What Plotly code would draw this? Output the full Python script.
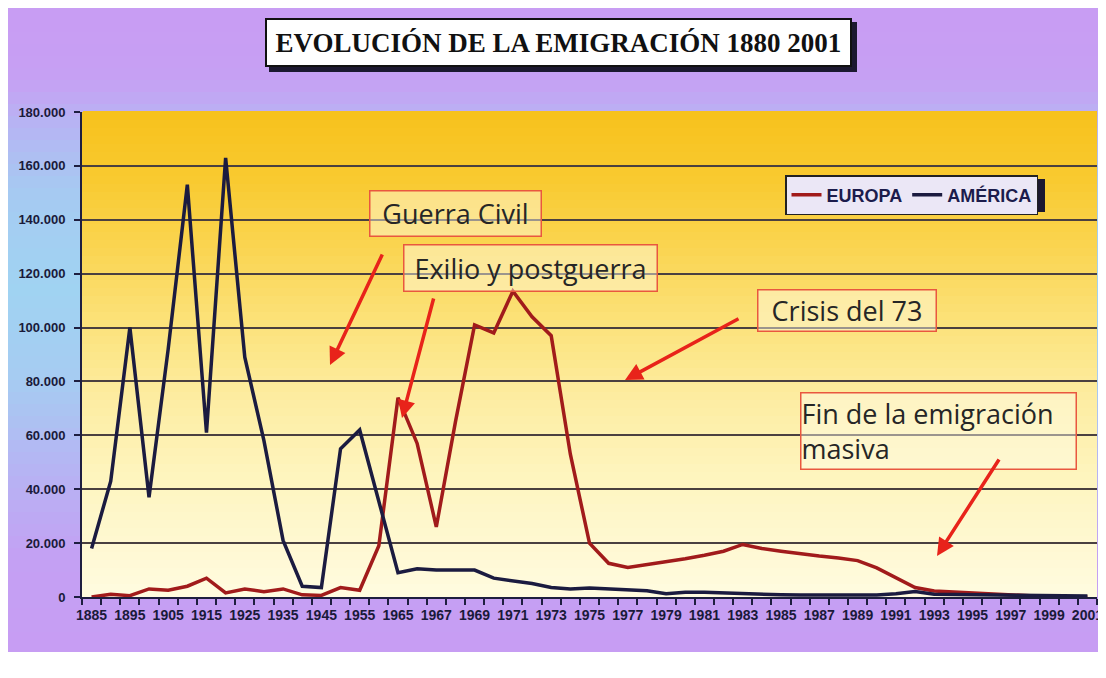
"""
Evolución de la emigración 1880-2001 (Europa / América)
"""

import plotly.graph_objects as go

# the page body adds an 8px margin, so the figure is 16px smaller than the window
OFF = 8
W, H = 1090, 662
# plot area in reference-picture pixels
PL, PR, PT, PB = 82, 1097, 112, 597

years = [
    "1885", "1890", "1895", "1900", "1905", "1910", "1915", "1920", "1925",
    "1930", "1935", "1940", "1945", "1950", "1955", "1960", "1965", "1966",
    "1967", "1968", "1969", "1970", "1971", "1972", "1973", "1974", "1975",
    "1976", "1977", "1978", "1979", "1980", "1981", "1982", "1983", "1984",
    "1985", "1986", "1987", "1988", "1989", "1990", "1991", "1992", "1993",
    "1994", "1995", "1996", "1997", "1998", "1999", "2000", "2001",
]

europa = [
    0, 1000, 500, 3000, 2500, 4000, 7000, 1500, 3000,
    2000, 3000, 800, 600, 3500, 2500, 19000, 74000, 57000,
    26000, 65000, 101000, 98000, 113500, 104000, 97000, 53000, 20000,
    12500, 11000, 12000, 13000, 14200, 15500, 17000, 19500, 18000,
    17000, 16000, 15200, 14500, 13500, 10800, 7000, 3500, 2200,
    1800, 1500, 1200, 700, 300, 100, 0, 0,
]

america = [
    18000, 43000, 100000, 37000, 92000, 153000, 61000, 163000, 89000,
    58000, 21000, 4000, 3500, 55000, 62000, 35000, 9000, 10500,
    10000, 10000, 10000, 7000, 6000, 5000, 3500, 3000, 3300,
    3000, 2700, 2300, 1200, 1800, 1800, 1500, 1400, 900,
    800, 700, 700, 600, 600, 700, 1200, 2000, 1000,
    900, 800, 700, 700, 600, 600, 500, 400,
]

y_ticks = [0, 20000, 40000, 60000, 80000, 100000, 120000, 140000, 160000, 180000]
y_labels = ["0", "20.000", "40.000", "60.000", "80.000", "100.000",
            "120.000", "140.000", "160.000", "180.000"]
x_labels = [y if i % 2 == 0 else "" for i, y in enumerate(years)]

TITULO = "EVOLUCIÓN DE LA EMIGRACIÓN 1880 2001"

# text boxes: (text, centre x, centre y, width, height, align)
notas = [
    ("Guerra Civil", 455, 213, 170, 44, "center"),
    ("Exilio y postguerra", 530, 268, 252, 45, "center"),
    ("Crisis del 73", 847, 310, 177, 40, "center"),
    ("Fin de la emigración<br>masiva", 938, 431, 274, 75, "left"),
]
# arrows: (head x, head y, tail x, tail y)
flechas = [
    (330, 365, 383, 253),
    (402, 418, 434, 297),
    (625, 380, 740, 318),
    (937, 556, 1000, 458),
]


def px_x(px):
    return (px - PL) / (PR - PL)


def px_y(py):
    return (PB - py) / (PB - PT)


def mezcla(stops, py):
    for (p0, c0), (p1, c1) in zip(stops, stops[1:]):
        if p0 <= py <= p1:
            t = (py - p0) / (p1 - p0)
            c = [round(a + (b - a) * t) for a, b in zip(c0, c1)]
            return f"rgb({c[0]},{c[1]},{c[2]})"
    c = stops[-1][1]
    return f"rgb({c[0]},{c[1]},{c[2]})"


def bandas(stops, x0, x1, y0, y1, paso):
    out = []
    py = y0
    while py < y1:
        py2 = min(py + paso, y1)
        out.append(dict(
            type="rect", xref="paper", yref="paper", layer="below",
            x0=px_x(x0), x1=px_x(x1), y0=px_y(py2 + 0.6), y1=px_y(py),
            fillcolor=mezcla(stops, (py + py2) / 2), line_width=0,
        ))
        py = py2
    return out


fondo_pagina = [
    (0, (201, 156, 243)), (80, (198, 160, 243)), (120, (184, 178, 243)),
    (190, (166, 202, 242)), (290, (160, 211, 242)), (380, (166, 204, 242)),
    (470, (182, 180, 243)), (560, (196, 160, 243)), (678, (200, 156, 243)),
]
fondo_grafico = [
    (112, (247, 194, 28)), (180, (249, 202, 48)), (250, (250, 213, 82)),
    (330, (252, 227, 126)), (400, (253, 237, 162)), (480, (254, 245, 192)),
    (597, (255, 251, 224)),
]

shapes = []
shapes += bandas(fondo_pagina, OFF, OFF + W, OFF, OFF + H, 12)
# white strip at the bottom of the slide
shapes.append(dict(type="rect", xref="paper", yref="paper", layer="below",
                   x0=px_x(OFF), x1=px_x(OFF + W), y0=px_y(OFF + H), y1=px_y(652),
                   fillcolor="white", line_width=0))
shapes += bandas(fondo_grafico, PL, PR, PT, PB, 8)
# shadows for title and legend boxes
for x0, x1, y0, y1 in [(269, 857, 22, 72), (789, 1045, 179, 212)]:
    shapes.append(dict(type="rect", xref="paper", yref="paper", layer="below",
                       x0=px_x(x0), x1=px_x(x1), y0=px_y(y1), y1=px_y(y0),
                       fillcolor="#1c1830", line_width=0))
# no dark gridline along the top edge of the plot
shapes.append(dict(type="line", xref="paper", yref="paper", layer="above",
                   x0=px_x(PL + 1), x1=1, y0=1, y1=1,
                   line=dict(color="rgb(247,194,28)", width=2)))

fig = go.Figure()
fig.add_trace(go.Scatter(
    x=years, y=europa, name="EUROPA", mode="lines",
    line=dict(color="#a11b1b", width=3.5),
))
fig.add_trace(go.Scatter(
    x=years, y=america, name="AMÉRICA", mode="lines",
    line=dict(color="#1b1b40", width=3.5),
))

annotations = [dict(
    text=TITULO, xref="paper", yref="paper", x=px_x(558.5), y=px_y(42.5),
    xanchor="center", yanchor="middle", showarrow=False,
    width=583, height=45, bgcolor="white", bordercolor="#111111",
    borderwidth=2, borderpad=0,
    font=dict(family="Liberation Serif, Times New Roman, serif", size=27,
              color="#111111", weight="bold"),
)]
for texto, cx, cy, w, h, al in notas:
    annotations.append(dict(
        text=texto, xref="paper", yref="paper", x=px_x(cx), y=px_y(cy),
        xanchor="center", yanchor="middle", showarrow=False, align=al,
        width=w, height=h, bgcolor="rgba(255,252,235,0.45)",
        bordercolor="#e9573f", borderwidth=1.5, borderpad=0,
        font=dict(family="Open Sans, Noto Sans, sans-serif", size=27,
                  color="#262626"),
    ))
for hx, hy, tx, ty in flechas:
    annotations.append(dict(
        text="", xref="paper", yref="paper", x=px_x(hx), y=px_y(hy),
        ax=tx - hx, ay=ty - hy, showarrow=True, arrowhead=2, arrowsize=1,
        arrowwidth=3.5, arrowcolor="#e8231a", standoff=0,
    ))

fig.update_layout(
    width=W, height=H,
    margin=dict(l=PL - OFF, r=OFF + W - PR, t=PT - OFF, b=OFF + H - PB),
    paper_bgcolor="rgb(200,156,243)",
    plot_bgcolor="rgba(0,0,0,0)",
    showlegend=True,
    legend=dict(
        orientation="h", x=px_x(785), y=px_y(175), xanchor="left", yanchor="top",
        bgcolor="#ebe7f6", bordercolor="#222222", borderwidth=1.5,
        font=dict(family="Liberation Sans, Arial, sans-serif", size=18,
                  color="#1c1c4c", weight="bold"),
    ),
    shapes=shapes,
    annotations=annotations,
    xaxis=dict(
        type="category", range=[-0.5, len(years) - 0.5], automargin=False,
        tickvals=years, ticktext=x_labels,
        tickson="boundaries", ticks="outside", ticklen=6, tickwidth=2,
        tickcolor="#1e1e40", showline=True, linecolor="#1e1e40", linewidth=2,
        showgrid=False, tickangle=0, ticklabelstandoff=4,
        tickfont=dict(family="Liberation Sans, Arial, sans-serif",
                      size=14, color="#1a1a3a", weight="bold"),
    ),
    yaxis=dict(
        range=[0, 180000], tickvals=y_ticks, ticktext=y_labels, automargin=False,
        ticks="outside", ticklen=6, tickwidth=2, tickcolor="#1e1e40",
        showline=True, linecolor="#1e1e40", linewidth=2,
        showgrid=True, gridcolor="#4a4040", gridwidth=1.5, zeroline=False,
        ticklabelstandoff=6,
        tickfont=dict(family="Liberation Sans, Arial, sans-serif",
                      size=13, color="#1a1a3a", weight="bold"),
    ),
)

fig.write_html("out.html")
